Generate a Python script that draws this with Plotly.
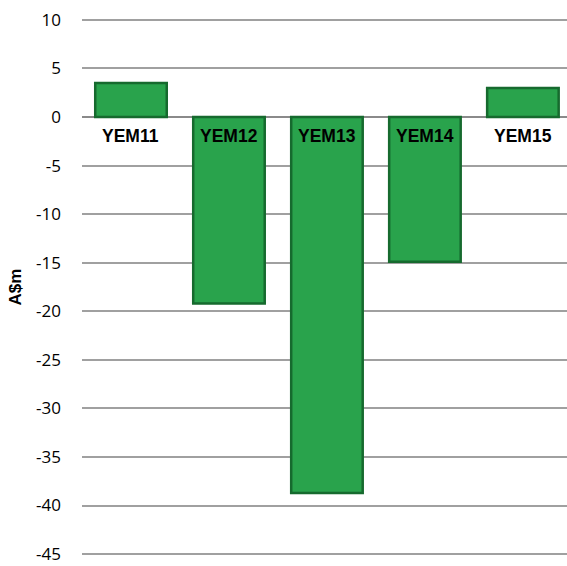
import plotly.graph_objects as go

# Annual result by year-ended-March period (A$ millions)
categories = ["YEM11", "YEM12", "YEM13", "YEM14", "YEM15"]
values = [3.5, -19.2, -38.7, -14.9, 3.0]
tick_values = [10, 5, 0, -5, -10, -15, -20, -25, -30, -35, -40, -45]
tick_labels = ["10", "5", "0", "-5", "-10", "-15", "-20", "-25", "-30", "-35", "-40", "-45"]
y_title = "A$m"

fig = go.Figure()

fig.add_trace(go.Bar(
    x=categories,
    y=values,
    width=0.73,
    marker=dict(color="#29a34c", line=dict(color="#166a2e", width=2.5)),
    hoverinfo="x+y",
))

# Category labels sit just under the zero line
for cat in categories:
    fig.add_annotation(
        x=cat, y=0, yshift=-19, yanchor="middle", xanchor="center",
        text=f"<b>{cat}</b>", showarrow=False,
        font=dict(family="Liberation Sans, Arial", size=17.5, color="#000000"),
    )

fig.update_layout(
    width=567, height=566,
    margin=dict(l=82, r=0, t=17, b=9),
    plot_bgcolor="white", paper_bgcolor="white",
    showlegend=False,
)
fig.update_xaxes(
    range=[-0.5, 4.45],
    showticklabels=False, showgrid=False, zeroline=False, showline=False,
)
fig.update_yaxes(
    range=[-45.3, 10.3],
    tickvals=tick_values,
    ticktext=tick_labels,
    tickfont=dict(family="Open Sans, Arial", size=17, color="#000000"),
    ticklabelstandoff=20,
    showgrid=True, gridcolor="#a0a0a0", gridwidth=1.5,
    zeroline=True, zerolinecolor="#8a8a8a", zerolinewidth=2,
    showline=False,
    title=dict(text=f"<b>{y_title}</b>", standoff=10,
               font=dict(family="Liberation Sans, Arial", size=17, color="#000000")),
)

fig.write_html("out.html")
